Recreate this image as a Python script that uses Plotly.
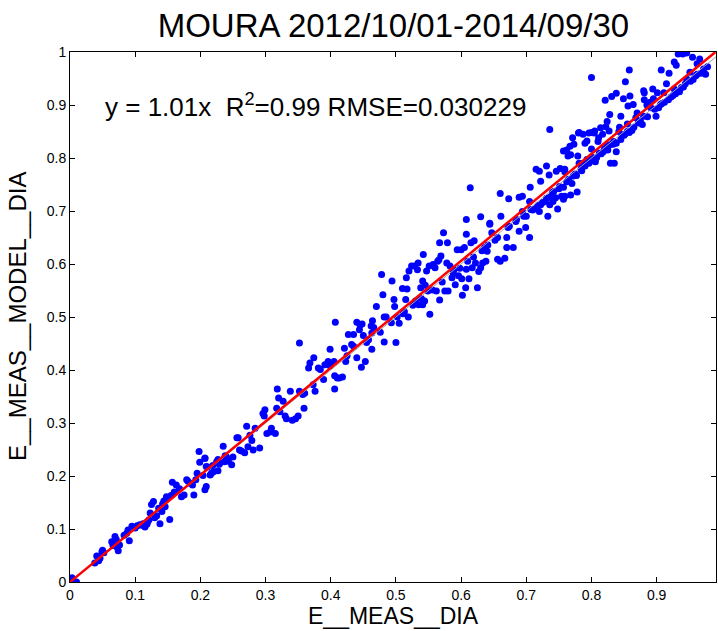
import plotly.graph_objects as go

# ---- data ----
meas_x = [
    0.003, 0.010, 0.001, 0.038, 0.041, 0.046, 0.049, 0.050, 0.044, 0.052,
    0.064, 0.066, 0.069, 0.071, 0.074, 0.076, 0.068, 0.072, 0.083, 0.087,
    0.089, 0.091, 0.095, 0.100, 0.103, 0.107, 0.110, 0.112, 0.115, 0.118,
    0.119, 0.121, 0.123, 0.125, 0.128, 0.130, 0.133, 0.136, 0.138, 0.141,
    0.142, 0.144, 0.146, 0.148, 0.151, 0.153, 0.155, 0.157, 0.160, 0.163,
    0.168, 0.171, 0.175, 0.179, 0.181, 0.185, 0.188, 0.190, 0.193, 0.195,
    0.198, 0.199, 0.204, 0.207, 0.209, 0.207, 0.211, 0.217, 0.219, 0.225,
    0.227, 0.229, 0.235, 0.237, 0.240, 0.248, 0.250, 0.256, 0.260,
    0.207, 0.209, 0.215, 0.220, 0.227, 0.230, 0.238, 0.243,
    0.258, 0.263, 0.268, 0.271, 0.273, 0.276, 0.279, 0.281, 0.284, 0.291,
    0.296, 0.298, 0.299, 0.302, 0.307, 0.309, 0.315, 0.317, 0.318, 0.320,
    0.322, 0.327, 0.330, 0.332, 0.338, 0.341, 0.346, 0.350, 0.352, 0.352,
    0.357, 0.359, 0.360, 0.366, 0.368, 0.373, 0.374, 0.376, 0.381, 0.384,
    0.389, 0.391, 0.396, 0.399, 0.399, 0.405, 0.406, 0.406, 0.407, 0.410,
    0.413, 0.418, 0.421, 0.423, 0.425, 0.427, 0.435, 0.435, 0.440, 0.440,
    0.444, 0.445, 0.447, 0.448, 0.453, 0.458, 0.462, 0.463, 0.464, 0.466,
    0.432, 0.450, 0.463,
    0.470, 0.478, 0.480, 0.482, 0.482, 0.485, 0.494, 0.497, 0.498, 0.500,
    0.502, 0.505, 0.510, 0.513, 0.515, 0.517, 0.516, 0.519, 0.520, 0.524,
    0.528, 0.530, 0.533, 0.534, 0.535, 0.538, 0.541, 0.541, 0.545, 0.542,
    0.544, 0.547, 0.549, 0.551, 0.552, 0.557, 0.560, 0.562, 0.564, 0.566,
    0.567, 0.567, 0.569, 0.573, 0.575, 0.578, 0.579, 0.580, 0.583, 0.586,
    0.589, 0.591, 0.594, 0.596, 0.600, 0.601, 0.602, 0.605, 0.607, 0.608,
    0.608, 0.610, 0.612, 0.615, 0.617, 0.620, 0.622, 0.625, 0.627, 0.630,
    0.633, 0.636, 0.638, 0.640, 0.644, 0.647, 0.656, 0.656, 0.660, 0.667,
    0.670, 0.670, 0.672,
    0.608, 0.614, 0.630, 0.644, 0.660, 0.661, 0.673,
    0.736, 0.685, 0.680, 0.689, 0.694, 0.706, 0.715, 0.720, 0.722, 0.731,
    0.735, 0.736, 0.746, 0.748, 0.754, 0.757, 0.759, 0.762, 0.768, 0.773,
    0.778, 0.781, 0.781, 0.787, 0.793, 0.800, 0.805, 0.811, 0.817, 0.822,
    0.827, 0.835, 0.838, 0.843, 0.850, 0.855, 0.858,
    0.674, 0.689, 0.699, 0.705, 0.694, 0.705, 0.715, 0.720, 0.722, 0.733,
    0.729, 0.736, 0.741, 0.745, 0.757, 0.777, 0.785, 0.787, 0.793, 0.800,
    0.806, 0.812, 0.820, 0.828, 0.838, 0.847,
    0.800, 0.858, 0.907, 0.919, 0.930, 0.927, 0.933, 0.940, 0.946, 0.966,
    0.972, 0.960, 0.946, 0.951, 0.938, 0.927, 0.852, 0.821, 0.831, 0.838,
    0.849, 0.859, 0.880, 0.881, 0.894, 0.901, 0.911, 0.906, 0.899, 0.878,
    0.880, 0.868, 0.864, 0.856, 0.845, 0.828, 0.824, 0.814, 0.804, 0.796,
    0.780, 0.771, 0.767, 0.757, 0.764, 0.790, 0.810, 0.824, 0.834, 0.842,
    0.829, 0.800, 0.779, 0.752, 0.759, 0.770, 0.759, 0.768, 0.881, 0.891,
    0.955, 0.962, 0.975, 0.915, 0.922, 0.890, 0.870, 0.885, 0.895, 0.903,
    0.912, 0.925, 0.935, 0.944, 0.956, 0.962,
    0.700, 0.710, 0.725, 0.740, 0.750, 0.765, 0.775, 0.790, 0.802, 0.815,
    0.825, 0.835, 0.845, 0.855, 0.865, 0.875,
    0.872, 0.886, 0.897, 0.908, 0.918, 0.929, 0.941, 0.952, 0.968, 0.978,
    0.862, 0.851, 0.833, 0.818, 0.808, 0.796, 0.784, 0.772, 0.762, 0.751,
    0.742, 0.731, 0.718, 0.707, 0.696, 0.684, 0.652, 0.641, 0.632, 0.619,
    0.598, 0.588, 0.571, 0.556, 0.539, 0.526, 0.511, 0.493, 0.476, 0.455,
]
model_y = [
    0.008, 0.000, 0.003, 0.036, 0.049, 0.045, 0.057, 0.060, 0.040, 0.055,
    0.076, 0.069, 0.086, 0.080, 0.059, 0.070, 0.074, 0.066, 0.088, 0.092,
    0.098, 0.078, 0.105, 0.102, 0.106, 0.108, 0.107, 0.110, 0.104, 0.109,
    0.113, 0.117, 0.130, 0.146, 0.152, 0.121, 0.125, 0.139, 0.110, 0.133,
    0.147, 0.153, 0.142, 0.161, 0.159, 0.118, 0.163, 0.188, 0.170, 0.183,
    0.176, 0.161, 0.164, 0.193, 0.190, 0.186, 0.183, 0.164, 0.193, 0.205,
    0.246, 0.226, 0.201, 0.174, 0.180, 0.233, 0.217, 0.205, 0.220, 0.227,
    0.210, 0.222, 0.256, 0.227, 0.236, 0.221, 0.236, 0.272, 0.249,
    0.234, 0.218, 0.202, 0.208, 0.231, 0.225, 0.238, 0.228,
    0.272, 0.247, 0.244, 0.294, 0.255, 0.277, 0.267, 0.249, 0.290, 0.253,
    0.318, 0.313, 0.325, 0.280, 0.283, 0.290, 0.280, 0.328, 0.364, 0.347,
    0.321, 0.341, 0.313, 0.308, 0.360, 0.305, 0.308, 0.313, 0.451, 0.360,
    0.354, 0.328, 0.356, 0.404, 0.413, 0.372, 0.423, 0.360, 0.404, 0.401,
    0.382, 0.410, 0.416, 0.408, 0.439, 0.416, 0.364, 0.389, 0.490, 0.385,
    0.385, 0.387, 0.441, 0.416, 0.427, 0.467, 0.467, 0.445, 0.423, 0.490,
    0.476, 0.485, 0.405, 0.487, 0.416, 0.457, 0.483, 0.439, 0.493, 0.480,
    0.448, 0.465, 0.470,
    0.520, 0.580, 0.542, 0.500, 0.453, 0.500, 0.568, 0.533, 0.520, 0.452,
    0.500, 0.488, 0.554, 0.510, 0.533, 0.553, 0.574, 0.500, 0.587, 0.596,
    0.596, 0.530, 0.589, 0.602, 0.523, 0.555, 0.568, 0.523, 0.560, 0.618,
    0.530, 0.587, 0.549, 0.596, 0.505, 0.599, 0.593, 0.549, 0.605, 0.608,
    0.640, 0.532, 0.615, 0.659, 0.549, 0.602, 0.640, 0.549, 0.596, 0.574,
    0.589, 0.561, 0.627, 0.578, 0.627, 0.572, 0.541, 0.631, 0.555, 0.656,
    0.590, 0.605, 0.572, 0.640, 0.593, 0.644, 0.602, 0.555, 0.586, 0.593,
    0.602, 0.631, 0.605, 0.624, 0.675, 0.659, 0.650, 0.609, 0.605, 0.611,
    0.631, 0.650, 0.669,
    0.684, 0.744, 0.689, 0.677, 0.733, 0.690, 0.723,
    0.854, 0.684, 0.631, 0.726, 0.728, 0.745, 0.779, 0.775, 0.756, 0.785,
    0.768, 0.726, 0.775, 0.704, 0.728, 0.745, 0.779, 0.815, 0.806, 0.826,
    0.736, 0.790, 0.848, 0.845, 0.832, 0.848, 0.851, 0.838, 0.845, 0.859,
    0.851, 0.790, 0.812, 0.858, 0.843, 0.864, 0.848,
    0.671, 0.662, 0.669, 0.650, 0.699, 0.718, 0.705, 0.699, 0.712, 0.690,
    0.718, 0.712, 0.718, 0.725, 0.722, 0.767, 0.776, 0.790, 0.797, 0.802,
    0.793, 0.809, 0.818, 0.825, 0.828, 0.843,
    0.952, 0.966, 0.966, 0.960, 0.975, 0.981, 0.996, 0.996, 0.998, 0.987,
    0.968, 0.955, 0.949, 0.962, 0.933, 0.930, 0.944, 0.909, 0.916, 0.922,
    0.912, 0.917, 0.927, 0.923, 0.930, 0.923, 0.923, 0.901, 0.879, 0.863,
    0.879, 0.876, 0.901, 0.898, 0.879, 0.882, 0.869, 0.857, 0.847, 0.847,
    0.847, 0.838, 0.822, 0.813, 0.804, 0.828, 0.831, 0.822, 0.831, 0.850,
    0.790, 0.817, 0.804, 0.780, 0.774, 0.752, 0.728, 0.730, 0.910, 0.895,
    0.990, 0.978, 0.958, 0.940, 0.915, 0.905, 0.885, 0.900, 0.912, 0.895,
    0.905, 0.918, 0.925, 0.940, 0.948, 0.958,
    0.690, 0.702, 0.716, 0.735, 0.742, 0.760, 0.770, 0.785, 0.795, 0.808,
    0.815, 0.828, 0.835, 0.850, 0.858, 0.870,
    0.866, 0.878, 0.892, 0.903, 0.910, 0.921, 0.934, 0.945, 0.960, 0.972,
    0.852, 0.845, 0.826, 0.812, 0.801, 0.790, 0.779, 0.766, 0.755, 0.746,
    0.737, 0.724, 0.711, 0.703, 0.690, 0.680, 0.645, 0.636, 0.625, 0.613,
    0.592, 0.583, 0.566, 0.551, 0.535, 0.522, 0.506, 0.489, 0.471, 0.452,
]

fit_slope = 1.01
line_x = [0.0, 0.99]
one_to_one_x = [0.0, 0.991]

x_ticks = [0, 0.1, 0.2, 0.3, 0.4, 0.5, 0.6, 0.7, 0.8, 0.9]
y_ticks = [0, 0.1, 0.2, 0.3, 0.4, 0.5, 0.6, 0.7, 0.8, 0.9, 1]

title_text = "MOURA 2012/10/01-2014/09/30"
stats_text = "y = 1.01x  R<sup>2</sup>=0.99 RMSE=0.030229"
x_label = "E__MEAS__DIA"
y_label = "E__MEAS__MODEL__DIA"

FONT = "Liberation Sans, Arial, sans-serif"

fig = go.Figure()
fig.add_trace(go.Scatter(
    x=meas_x, y=model_y, mode="markers",
    marker=dict(color="#0000ff", size=7, line=dict(width=0)),
    showlegend=False, hoverinfo="skip"))
fig.add_trace(go.Scatter(
    x=one_to_one_x, y=one_to_one_x, mode="lines",
    line=dict(color="#a0a0a0", width=1), showlegend=False))
fig.add_trace(go.Scatter(
    x=line_x, y=[fit_slope * v for v in line_x], mode="lines",
    line=dict(color="#ff0000", width=2.5), showlegend=False))

axis_common = dict(
    showgrid=False, zeroline=False, showline=True, linecolor="black",
    linewidth=1, mirror="ticks", ticks="inside", ticklen=5, tickwidth=1,
    tickcolor="black", tickfont=dict(family=FONT, size=14, color="black"),
)
fig.update_xaxes(range=[0, 0.991], tickvals=x_ticks, **axis_common)
fig.update_yaxes(range=[0, 1.0], tickvals=y_ticks, **axis_common)

fig.update_layout(
    width=718, height=631,
    margin=dict(l=70, r=2, t=52, b=49),
    paper_bgcolor="white", plot_bgcolor="white",
    title=dict(text=title_text, x=0.548, xanchor="center",
               y=1 - 25 / 631, yanchor="middle",
               font=dict(family=FONT, size=33, color="black")),
    annotations=[
        dict(text=stats_text, x=0.05, y=0.9, xref="x", yref="y",
             xanchor="left", yanchor="middle", showarrow=False,
             font=dict(family=FONT, size=26, color="black")),
        dict(text=x_label, x=0.5, y=-34 / 530, xref="paper", yref="paper",
             xanchor="center", yanchor="middle", showarrow=False,
             font=dict(family=FONT, size=23, color="black")),
        dict(text=y_label, x=-53 / 646, y=0.5, xref="paper", yref="paper",
             xanchor="center", yanchor="middle", showarrow=False,
             textangle=-90,
             font=dict(family=FONT, size=24, color="black")),
    ],
)

fig.write_html("out.html")
